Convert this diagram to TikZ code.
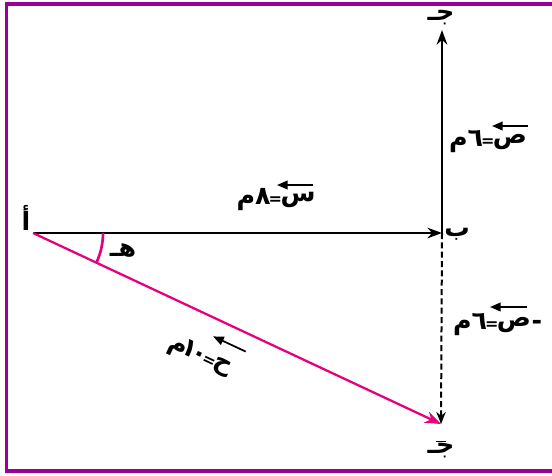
\documentclass[tikz,border=0pt]{standalone}
\usepackage{fontspec}
\usetikzlibrary{arrows.meta,calc}
\TeXXeTstate=1
\newfontfamily\arabicfont[Script=Arabic]{DejaVu Sans}
\definecolor{framepurple}{RGB}{153,0,153}
\definecolor{vecpink}{RGB}{230,0,126}
\newcommand{\smalleq}{{\kern-1.5pt\fontsize{12}{12}\selectfont=\kern-1.5pt}}
\begin{document}
\begin{tikzpicture}[x=0.75pt,y=-0.75pt,
  mainline/.style={line width=1.7pt, -{Stealth[length=11pt,width=8pt]}},
  dashline/.style={line width=1.5pt, dash pattern=on 4.5pt off 2.5pt, -{Stealth[length=9pt,width=7pt]}},
  pinkline/.style={vecpink, line width=1.7pt, -{Stealth[length=12pt,width=9pt]}},
  anglearc/.style={vecpink, line width=2pt},
  lbl/.style={inner sep=0pt, font=\arabicfont\bfseries\fontsize{19}{22}\selectfont},
  vecarrow/.style={line width=1.3pt, -{Triangle[length=8pt,width=6.5pt]}},
  framestyle/.style={framepurple, line width=2.6pt}
]
\useasboundingbox (0,0) rectangle (552,475);
\clip (0,0) rectangle (552,475);
% frame
\draw[framestyle] (600,4) -- (6.5,4) -- (6.5,471) -- (600,471);
% points
\coordinate (A) at (33,233);
\coordinate (B) at (442,233);
\coordinate (C) at (442,30);
\coordinate (Cp) at (441,424);
% vectors
\draw[mainline] (A) -- (B);
\draw[mainline] (B) -- (C);
\draw[dashline] (B) -- (Cp);
\draw[pinkline] (A) -- (Cp);
\draw[anglearc] ($(A)+(70,0)$) arc[start angle=0, end angle=25, radius=70];
% point labels
\node[lbl] (la) at (26,218) {\beginR أ\endR};
\node[lbl] (lb) at (457,234) {\beginR ب\endR};
\node[lbl] (lc) at (441,18) {\beginR جـ\endR};
\node[lbl] (lcp) at (441,451) {\beginR جـ\endR};
\draw[line width=1.3pt] ($(lcp.north)+(-5,-2)$) -- ($(lcp.north)+(5,-2)$);
\node[lbl] (lang) at (123,250) {\beginR هـ\endR};
% x label
\node[lbl] (sx) at (298,200) {\beginR س\endR};
\node[lbl, anchor=east] (sxr) at (sx.west) {\beginR\smalleq ٨م\endR};
\draw[vecarrow] ($(sx)+(15,-15)$) -- ($(sx)+(-21,-15)$);
% y label
\node[lbl] (sy) at (510,142) {\beginR ص\endR};
\node[lbl, anchor=east] (syr) at (sy.west) {\beginR\smalleq ٦م\endR};
\draw[vecarrow] ($(sy)+(18,-16)$) -- ($(sy)+(-18,-16)$);
% -y label
\node[lbl] (sny) at (514,325) {\beginR ص\endR};
\node[lbl, anchor=east] (snyr) at (sny.west) {\beginR\smalleq ٦م\endR};
\node[lbl, anchor=west] (snym) at (sny.east) {-};
\draw[vecarrow] ($(sny)+(13,-18)$) -- ($(sny)+(-24,-18)$);
% resultant label
\begin{scope}[shift={(222,367)}, rotate=-25]
\node[lbl, rotate=-25] (sr) at (0,0) {\beginR ح\endR};
\node[lbl, rotate=-25, anchor=east] (srr) at (sr.west) {\beginR\smalleq\kern-1pt\beginL ١\kern-3pt ٠\endL\kern-4pt م\endR};
\draw[vecarrow] (15,-24) -- (-21,-24);
\end{scope}
\end{tikzpicture}
\end{document}
